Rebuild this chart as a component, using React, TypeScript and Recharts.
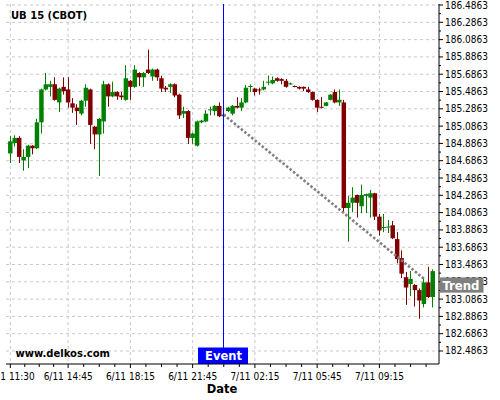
import React from 'react';
import { ComposedChart, Bar, XAxis, YAxis, CartesianGrid, ReferenceLine } from 'recharts';

// 15 min candles, UB 15 (CBOT)
const opens = [
  184.77, 184.89, 184.95, 184.69, 184.73, 184.86, 184.83, 185.13, 185.51, 185.54,
  185.57, 185.36, 185.54, 185.51, 185.35, 185.30, 185.23, 185.38, 185.51, 185.08,
  184.99, 185.14, 185.57, 185.43, 185.48, 185.44, 185.39, 185.61, 185.54, 185.70,
  185.65, 185.74, 185.66, 185.74, 185.64, 185.53, 185.54, 185.57, 185.45, 185.23,
  185.26, 184.95, 184.86, 185.13, 185.14, 185.27, 185.26, 185.32, 185.20, 185.26,
  185.23, 185.32, 185.30, 185.36, 185.54, 185.52, 185.51, 185.51, 185.59, 185.58,
  185.64, 185.63, 185.61, 185.57, 185.55, 185.54, 185.54, 185.51, 185.48, 185.39,
  185.31, 185.32, 185.39, 185.48, 185.36, 185.36, 184.14, 184.20, 184.29, 184.16,
  184.28, 184.26, 184.31, 184.04, 183.91, 183.915, 183.94, 183.78, 183.56, 183.34,
  183.26, 183.25, 183.19, 183.03, 183.28, 183.11,
];
const highs = [
  184.97, 184.98, 184.97, 184.82, 184.87, 184.865, 185.17, 185.52, 185.70, 185.61,
  185.65, 185.53, 185.65, 185.65, 185.41, 185.34, 185.39, 185.57, 185.52, 185.09,
  185.18, 185.61, 185.58, 185.60, 185.49, 185.48, 185.79, 185.62, 185.79, 185.71,
  185.71, 185.97, 185.75, 185.75, 185.67, 185.55, 185.58, 185.58, 185.46, 185.31,
  185.27, 185.01, 185.15, 185.16, 185.27, 185.31, 185.33, 185.36, 185.23, 185.31,
  185.33, 185.42, 185.41, 185.56, 185.57, 185.53, 185.53, 185.61, 185.67, 185.66,
  185.65, 185.64, 185.63, 185.59, 185.555, 185.545, 185.545, 185.54, 185.485, 185.395,
  185.42, 185.365, 185.455, 185.51, 185.51, 185.39, 184.28, 184.38, 184.295, 184.41,
  184.305, 184.35, 184.315, 184.07, 184.07, 184.00, 183.99, 183.86, 183.65, 183.40,
  183.41, 183.26, 183.21, 183.33, 183.46, 183.43,
];
const lows = [
  184.66, 184.85, 184.66, 184.57, 184.60, 184.76, 184.82, 185.00, 185.50, 185.43,
  185.38, 185.25, 185.45, 185.30, 185.24, 185.10, 185.21, 185.31, 184.88, 184.82,
  184.51, 185.00, 185.31, 185.42, 185.39, 185.39, 185.38, 185.39, 185.53, 185.55,
  185.54, 185.69, 185.61, 185.61, 185.48, 185.48, 185.47, 185.42, 185.17, 185.18,
  184.88, 184.88, 184.85, 185.12, 185.13, 185.21, 185.21, 185.19, 185.19, 185.25,
  185.21, 185.29, 185.26, 185.35, 185.48, 185.44, 185.45, 185.50, 185.56, 185.57,
  185.60, 185.57, 185.53, 185.565, 185.535, 185.51, 185.49, 185.47, 185.38, 185.25,
  185.29, 185.315, 185.385, 185.35, 185.32, 184.08, 183.75, 184.09, 184.03, 184.08,
  184.08, 184.03, 184.00, 183.82, 183.86, 183.85, 183.78, 183.50, 183.33, 183.02,
  183.12, 183.00, 182.86, 182.99, 183.10, 182.99,
];
const closes = [
  184.91, 184.95, 184.73, 184.73, 184.86, 184.83, 185.13, 185.51, 185.57, 185.57,
  185.39, 185.52, 185.49, 185.36, 185.30, 185.26, 185.38, 185.53, 185.10, 184.99,
  185.17, 185.57, 185.43, 185.48, 185.43, 185.42, 185.64, 185.54, 185.74, 185.65,
  185.70, 185.70, 185.74, 185.65, 185.52, 185.51, 185.57, 185.44, 185.21, 185.26,
  184.95, 185.00, 185.14, 185.15, 185.23, 185.28, 185.32, 185.20, 185.22, 185.30,
  185.32, 185.30, 185.36, 185.53, 185.55, 185.48, 185.50, 185.54, 185.60, 185.62,
  185.61, 185.61, 185.54, 185.58, 185.54, 185.52, 185.52, 185.48, 185.39, 185.30,
  185.30, 185.36, 185.45, 185.36, 185.39, 184.14, 184.20, 184.26, 184.20, 184.29,
  184.30, 184.31, 184.04, 183.88, 183.92, 183.925, 183.79, 183.55, 183.38, 183.22,
  183.32, 183.19, 183.07, 183.28, 183.11, 183.41,
];

const xTickIdx = [0, 13, 27, 41, 55, 69, 83];
const xTickLabels = ['6/11 11:30', '6/11 14:45', '6/11 18:15', '6/11 21:45', '7/11 02:15', '7/11 05:45', '7/11 09:15'];
const xMinorIdx = [3.25, 6.5, 9.75, 16.5, 20, 23.5, 30.5, 34, 37.5, 44.5, 48, 51.5, 58.5, 62, 65.5, 72.5, 76, 79.5, 86.5, 90, 93.5];

const yTickValues = [
  182.4863, 182.6863, 182.8863, 183.0863, 183.2863, 183.4863, 183.6863,
  183.8863, 184.0863, 184.2863, 184.4863, 184.6863, 184.8863, 185.0863,
  185.2863, 185.4863, 185.6863, 185.8863, 186.0863, 186.2863, 186.4863,
];

const eventIndex = 47.94;
const trendStart = { i: 47.94, v: 185.22 };
const trendEnd = { i: 93.3, v: 183.31 };
const trendLabelValue = 183.25;

const data = opens.map((o, i) => ({ i, o, h: highs[i], l: lows[i], c: closes[i] }));
const yMinor = yTickValues.slice(1).map((v, k) => (v + yTickValues[k]) / 2);
// trend tag goes last so it is painted over the tick labels
const yAllTicks = [...[...yTickValues, ...yMinor].sort((a, b) => a - b), trendLabelValue];
const xAllTicks = [...xTickIdx, ...xMinorIdx].sort((a, b) => a - b);

const axisFont = "'DejaVu Sans Condensed', 'DejaVu Sans', sans-serif";
const boldFont = "'DejaVu Sans', sans-serif";
const BODY_W = 4.45;

const Candle = (props: any) => {
  const { x, y, width, height, payload } = props;
  if (!payload) return null;
  const { o, h, l, c } = payload;
  const top = Math.min(y, y + height);
  const k = Math.abs(height) / (h - l);
  const py = (v: number) => top + (h - v) * k;
  const color = c >= o ? '#008000' : '#800000';
  const bTop = py(Math.max(o, c));
  const bH = Math.max(py(Math.min(o, c)) - bTop, 1);
  const mid = x + width / 2;
  const cx = Math.round(mid - 0.5) + 0.5;
  return (
    <g>
      <line x1={cx} x2={cx} y1={py(h)} y2={py(l)} stroke={color} strokeWidth={1} />
      <rect x={mid - BODY_W / 2} y={bTop} width={BODY_W} height={bH} fill={color} />
    </g>
  );
};

const XTick = (props: any) => {
  const { x, y, payload } = props;
  const k = xTickIdx.indexOf(payload.value);
  const major = k >= 0;
  return (
    <g>
      <line x1={x} x2={x} y1={y} y2={y + (major ? 4 : 3)} stroke="#000" />
      {major && (
        <text x={x} y={y + 16} textAnchor="middle" fontSize={10} fontFamily={axisFont} fill="#000">
          {xTickLabels[k]}
        </text>
      )}
    </g>
  );
};

const TrendTag = ({ x, y }: { x: number; y: number }) => (
  <g>
    <rect x={x + 1} y={y - 7.5} width={43.5} height={15.2} fill="#808080" />
    <text x={x + 3.5} y={y + 4.8} fill="#fff" fontWeight="bold" fontSize={13} fontFamily={axisFont}>
      Trend
    </text>
  </g>
);

const YTick = (props: any) => {
  const { x, y, payload } = props;
  if (payload.value === trendLabelValue) return <TrendTag x={x} y={y} />;
  const major = yTickValues.some((m) => Math.abs(m - payload.value) < 1e-6);
  return (
    <g>
      <line x1={x} x2={x + (major ? 4 : 2)} y1={y} y2={y} stroke="#000" />
      {major && (
        <text x={x + 6} y={y + 3.5} fontSize={10} fontFamily={axisFont} fill="#000">
          {payload.value.toFixed(4)}
        </text>
      )}
    </g>
  );
};

const EventTag = (props: any) => {
  const { x, y, height } = props.viewBox;
  const bottom = y + height;
  return (
    <g>
      <rect x={x - 25.5} y={bottom - 16.5} width={50} height={16.5} fill="#0000ff" />
      <text x={x} y={bottom - 4} textAnchor="middle" fill="#fff" fontWeight="bold" fontSize={11.5} fontFamily={boldFont}>
        Event
      </text>
    </g>
  );
};

export default function App() {
  return (
    <div style={{ position: 'absolute', left: 0, top: 0, width: 500, height: 400, background: '#fff' }}>
      <ComposedChart width={500} height={400} data={data} margin={{ top: 4, right: 0, bottom: 0, left: 6 }}>
        <CartesianGrid
          stroke="#c8c8c8"
          strokeDasharray="3 3"
          horizontalValues={yTickValues}
          verticalValues={xTickIdx}
        />
        <XAxis
          dataKey="i"
          type="number"
          domain={[-0.97, 96.4]}
          allowDataOverflow
          ticks={xAllTicks}
          interval={0}
          tick={(p: any) => <XTick {...p} />}
          tickLine={false}
          tickSize={0}
          tickMargin={0}
          height={36}
          axisLine={{ stroke: '#000' }}
        />
        <YAxis
          orientation="right"
          type="number"
          domain={[182.336, 186.498]}
          allowDataOverflow
          ticks={yAllTicks}
          interval={0}
          tick={(p: any) => <YTick {...p} />}
          tickLine={false}
          tickSize={0}
          tickMargin={0}
          width={61}
          axisLine={{ stroke: '#000' }}
        />
        <Bar
          dataKey={(d: any) => [d.l, d.h]}
          barSize={4.4}
          shape={(p: any) => <Candle {...p} />}
          isAnimationActive={false}
        />
        <ReferenceLine
          segment={[{ x: trendStart.i, y: trendStart.v }, { x: trendEnd.i, y: trendEnd.v }]}
          stroke="#808080"
          strokeWidth={2.6}
          strokeDasharray="2.5 2"
        />
        <ReferenceLine x={eventIndex} stroke="#0000ff" strokeWidth={1} label={(p: any) => <EventTag {...p} />} />
      </ComposedChart>
      <svg width={500} height={400} style={{ position: 'absolute', left: 0, top: 0, pointerEvents: 'none' }}>
        <text x={11} y={19.3} fontSize={10} fontWeight="bold" fontFamily={boldFont} fill="#000">UB 15 (CBOT)</text>
        <text x={15.5} y={357.3} fontSize={10} fontWeight="bold" fontFamily={boldFont} fill="#000">www.delkos.com</text>
        <text x={222} y={393.3} fontSize={11.5} fontWeight="bold" fontFamily={boldFont} fill="#000" textAnchor="middle">Date</text>
      </svg>
    </div>
  );
}
